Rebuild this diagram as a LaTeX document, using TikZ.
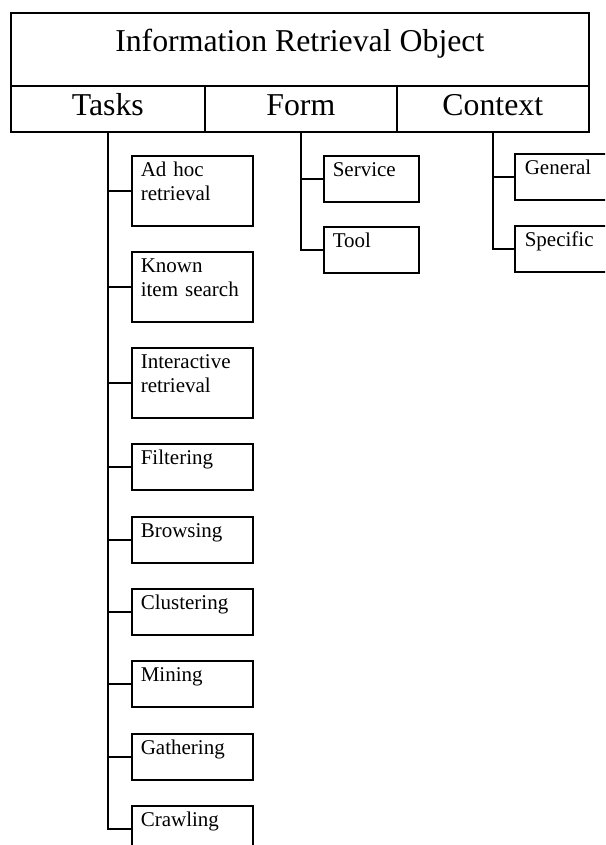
\documentclass[tikz,border=0pt]{standalone}
\usepackage{fontspec}
\setmainfont{Liberation Serif}
\tikzset{
	frame/.style={draw, line width=1.6pt, inner sep=0pt, anchor=north west},
	head/.style={frame, font=\fontsize{31.8}{36}\selectfont, align=center},
	leaf/.style={frame, font=\fontsize{21}{24}\selectfont, align=left,
		inner xsep=9pt, text height=21pt, text depth=25pt},
	tall/.style={leaf, text depth=49pt},
	link/.style={line width=1.6pt},
}

\begin{document}
\begin{tikzpicture}[x=1pt,y=-1pt]
		\useasboundingbox (0,0) rectangle (605,845);
		\clip (0,0) rectangle (605,845);
		\node[head, minimum width=578pt, text height=39pt, text depth=34pt] (iro) at (10,12) {Information Retrieval Object};
		\node[head, minimum width=194pt, text height=30pt, text depth=16pt] (tasks) at (10,85) {Tasks};
		\node[head, minimum width=192pt, text height=30pt, text depth=16pt] (form) at (204,85) {Form};
		\node[head, minimum width=192pt, text height=30pt, text depth=16pt] (context) at (396,85) {Context};
		
		\node[tall, text width=103pt] (adhoc) at (131,155) {Ad hoc\\retrieval};
		\node[tall, text width=103pt] (known) at (131,251) {Known\\item search};
		\node[tall, text width=103pt] (interactive) at (131,347) {Interactive\\retrieval};
		\node[leaf, text width=103pt] (filtering) at (131,443) {Filtering};
		\node[leaf, text width=103pt] (browsing) at (131,516) {Browsing};
		\node[leaf, text width=103pt] (clustering) at (131,588) {Clustering};
		\node[leaf, text width=103pt] (mining) at (131,660) {Mining};
		\node[leaf, text width=103pt] (gathering) at (131,733) {Gathering};
		\node[leaf, text width=103pt] (crawling) at (131,805) {Crawling};
		
		\node[leaf, text width=77pt] (service) at (323,155) {Service};
		\node[leaf, text width=77pt] (tool) at (323,226) {Tool};
		
		\node[leaf, text width=82pt, inner xsep=10pt] (general) at (514,153) {General};
		\node[leaf, text width=82pt, inner xsep=10pt] (specific) at (514,225) {Specific};
		
		\foreach \b in {adhoc,known,interactive,filtering,browsing,clustering,mining,gathering,crawling}
			\draw[link] (tasks.south) |- (\b.west);
		\foreach \b in {service,tool}
			\draw[link] (form.south) |- (\b.west);
		\foreach \b in {general,specific}
			\draw[link] (context.south) |- (\b.west);
\end{tikzpicture}
\end{document}
